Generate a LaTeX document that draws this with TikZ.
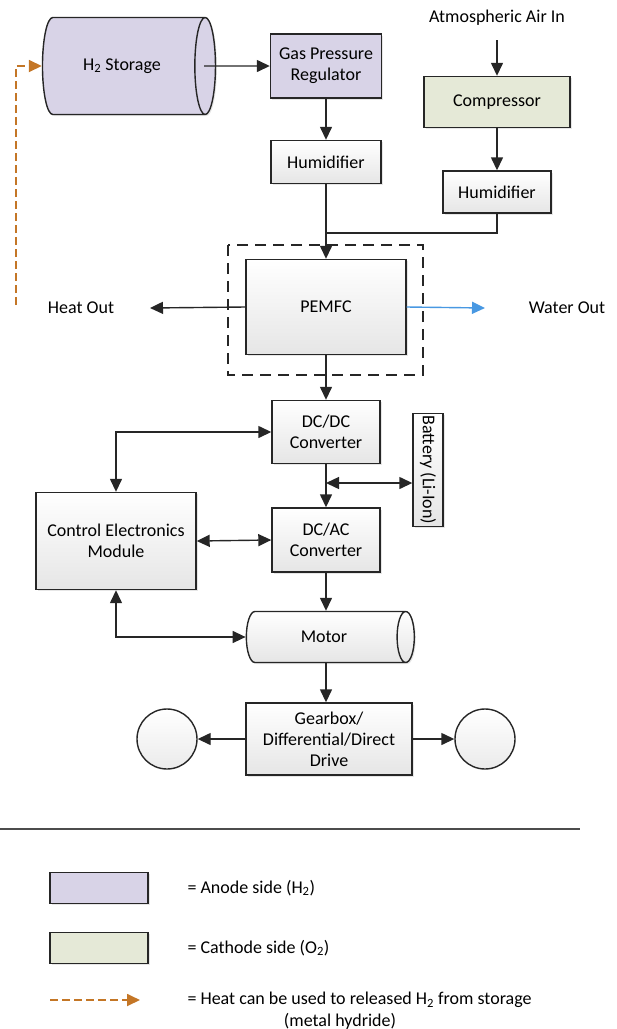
\documentclass[tikz,border=0pt]{standalone}
\usepackage{fontspec}
\setmainfont{Carlito}
\usetikzlibrary{arrows.meta,shapes.geometric,shadows}
\definecolor{anode}{RGB}{216,211,231}
\definecolor{cathode}{RGB}{229,233,215}
\definecolor{heatc}{RGB}{196,118,38}
\definecolor{waterc}{RGB}{72,152,226}

\begin{document}
\begin{tikzpicture}[x=1pt,y=-1pt,font=\fontsize{18}{21}\selectfont,
  blk/.style={draw=black!85,line width=1.4pt,top color=white,bottom color=black!10,
    align=center,inner sep=2pt,drop shadow={shadow xshift=1.5pt,shadow yshift=-1.5pt,opacity=0.2}},
  anodebox/.style={blk,top color=anode,bottom color=anode},
  cathbox/.style={blk,top color=cathode,bottom color=cathode},
  cyl/.style={blk,cylinder,shape border rotate=0,aspect=1.1},
  wheel/.style={draw=black!85,line width=1.4pt,circle,minimum size=60pt,top color=white,bottom color=black!8},
  arr/.style={-{Triangle[length=13pt,width=12pt]},line width=1.4pt,draw=black!85},
  darr/.style={{Triangle[length=13pt,width=12pt]}-{Triangle[length=13pt,width=12pt]},line width=1.4pt,draw=black!85},
  heatarr/.style={-{Triangle[length=13pt,width=12pt]},line width=1.8pt,draw=heatc,dash pattern=on 8pt off 4pt}]
  \useasboundingbox (0,0) rectangle (617,1029);
  % anode side
  \node[cyl,top color=anode,bottom color=anode,minimum height=173pt,minimum width=97pt] (stor) at (122,66) {H\textsubscript{2} Storage};
  \node[anodebox,minimum width=111pt,minimum height=64pt] (gpr) at (326,66) {Gas Pressure\\Regulator};
  \node[blk,minimum width=110pt,minimum height=43pt] (huma) at (326,162) {Humidifier};
  % cathode side
  \node (air) at (497,18) {Atmospheric Air In};
  \node[cathbox,minimum width=146pt,minimum height=51pt] (comp) at (497,102) {Compressor};
  \node[blk,minimum width=108pt,minimum height=42pt] (humc) at (497,192) {Humidifier};
  \coordinate (jn) at (326,233);
  % stack
  \node[blk,minimum width=160pt,minimum height=95pt] (pem) at (326,307) {PEMFC};
  \draw[line width=1.6pt,draw=black!85,dash pattern=on 11pt off 7pt] (228,245) rectangle (423,375);
  \node (heat) at (81,308) {Heat Out};
  \node (water) at (567,308) {Water Out};
  \coordinate (ho) at (150,308);
  \coordinate (wo) at (485,308);
  % power electronics
  \node[blk,minimum width=108pt,minimum height=63pt] (dcdc) at (326,432) {DC/DC\\Converter};
  \node[blk,rotate=-90,minimum width=104pt,minimum height=30pt] (batt) at (428,470) {Battery (Li-Ion)};
  \coordinate (bj) at (326,483);
  \node[blk,minimum width=108pt,minimum height=64pt] (dcac) at (326,540) {DC/AC\\Converter};
  \node[blk,minimum width=160pt,minimum height=97pt] (cem) at (116,541) {Control Electronics\\Module};
  \node[cyl,minimum height=168pt,minimum width=51pt] (motor) at (324,637) {Motor};
  \node[blk,minimum width=166pt,minimum height=72pt] (gear) at (329,739) {Gearbox/\\Differential/Direct\\Drive};
  \node[wheel] (wl) at (167,739) {};
  \node[wheel] (wr) at (485,739) {};
  \coordinate (hs) at (16,305);

  \draw[arr] (stor.east) ++(-12,0) -- (gpr.west);
  \draw[arr] (gpr) -- (huma);
  \draw[arr] (air) ++(0,22) -- (comp.north);
  \draw[arr] (comp) -- (humc);
  \draw[line width=1.4pt,draw=black!85] (humc.south) |- (jn);
  \draw[arr] (huma.south) -- (pem.north);
  \draw[arr] (pem.west) -- (ho);
  \draw[-{Triangle[length=13pt,width=12pt]},line width=1.4pt,draw=waterc] (pem.east) -- (wo);
  \draw[arr] (pem.south) -- (dcdc.north);
  \draw[arr] (dcdc.south) -- (dcac.north);
  \draw[darr] (bj) -- (bj -| batt.south);
  \draw[darr] (cem.north) |- (dcdc.west);
  \draw[darr] (cem.east) -- (dcac.west);
  \draw[darr] (cem.south) |- (motor.west);
  \draw[arr] (dcac.south) -- (dcac.south |- motor.north);
  \draw[arr] (dcac.south |- motor.south) -- (dcac.south |- gear.north);
  \draw[arr] (gear.west) -- (wl.east);
  \draw[arr] (gear.east) -- (wr.west);
  \draw[heatarr] (hs) |- (stor.west);

  % legend
  \draw[line width=1.2pt,draw=black!70] (0,829) -- (580,829);
  \node[anodebox,minimum width=98pt,minimum height=31pt] (lga) at (99,888) {};
  \node[cathbox,minimum width=98pt,minimum height=31pt] (lgc) at (99,948) {};
  \coordinate (la) at (50,1000);
  \coordinate (lb) at (140,1000);
  \draw[heatarr] (la) -- (lb);
  \node[anchor=west] (ta) at (184,888) {= Anode side (H\textsubscript{2})};
  \node[anchor=west] (tc) at (184,948) {= Cathode side (O\textsubscript{2})};
  \node[anchor=west] (th) at (184,1000) {= Heat can be used to released H\textsubscript{2} from storage};
  \node (tm) at (340,1021) {(metal hydride)};
\end{tikzpicture}
\end{document}
